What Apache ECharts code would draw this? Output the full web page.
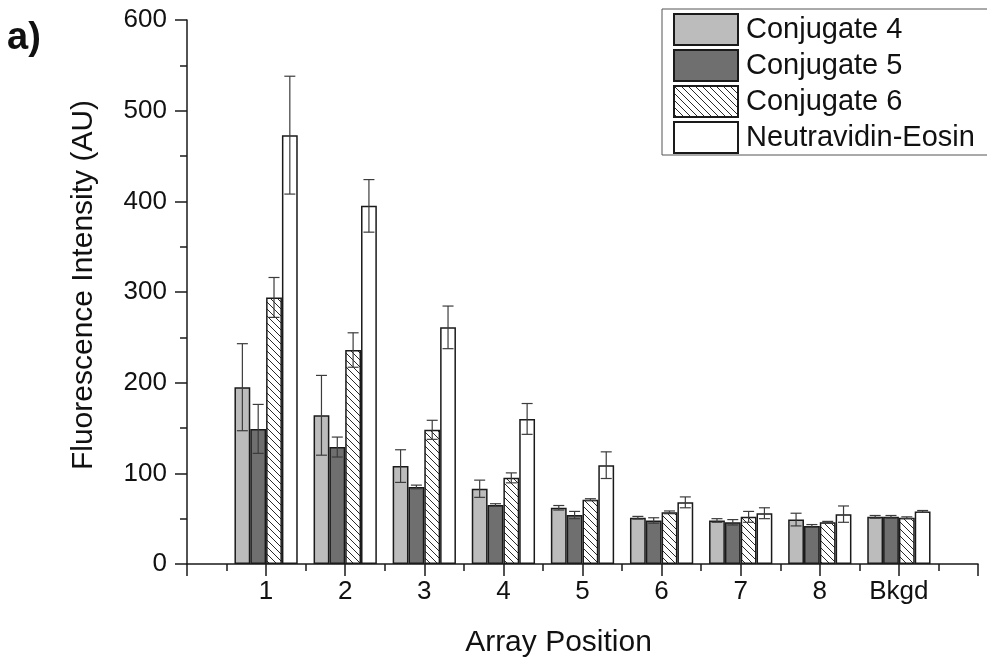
<!DOCTYPE html>
<html>
<head>
<meta charset="utf-8">
<script src="https://cdn.jsdelivr.net/npm/echarts@6/dist/echarts.min.js"></script>
<style>
    html, body { margin: 0; padding: 0; background: #fff; }
    #main { width: 987px; height: 668px; }
</style>
</head>
<body>
<div id="main"></div>
<script>
var positions = [1, 2, 3, 4, 5, 6, 7, 8, 9];
var posLabels = ['1', '2', '3', '4', '5', '6', '7', '8', 'Bkgd'];
var seriesNames = ['Conjugate 4', 'Conjugate 5', 'Conjugate 6', 'Neutravidin-Eosin'];

var conj4 = [195, 164, 108, 83, 62, 51, 48, 49, 52];
var conj4Err = [48, 44, 18, 9.5, 2.5, 1.5, 2, 7, 1.5];
var conj5 = [149, 129, 85, 65, 54, 48, 46, 42, 52];
var conj5Err = [27, 11, 2, 1.5, 4, 3, 3, 1.5, 1.5];
var conj6 = [294, 236, 148, 95, 71, 57, 52, 46, 51];
var conj6Err = [22, 19, 10.5, 5.5, 1, 1.5, 6, 1, 1];
var neutr = [473, 395, 261, 160, 109, 68, 56, 55, 58];
var neutrErr = [65, 29, 23.5, 17, 14.7, 6, 6, 9, 1];

var yTicks = [0, 100, 200, 300, 400, 500, 600];

var fig = {
    init() {
        fig.draw()
    },
    hatch() {
        // diagonal "\\\\" hatch tile
        var c = document.createElement('canvas');
        var s = 7;
        c.width = s;
        c.height = s;
        var ctx = c.getContext('2d');
        ctx.fillStyle = '#ffffff';
        ctx.fillRect(0, 0, s, s);
        ctx.strokeStyle = '#2a2a2a';
        ctx.lineWidth = 1;
        ctx.beginPath();
        ctx.moveTo(-1, -1);
        ctx.lineTo(s + 1, s + 1);
        ctx.moveTo(-1, s - 1);
        ctx.lineTo(1, s + 1);
        ctx.moveTo(s - 1, -1);
        ctx.lineTo(s + 1, 1);
        ctx.stroke();
        return c;
    },
    draw() {
        var myChart = echarts.init(document.getElementById('main'));
        var values = [conj4, conj5, conj6, neutr];
        var errs = [conj4Err, conj5Err, conj6Err, neutrErr];
        var fills = ['#bcbcbc', '#6f6f6f', { image: fig.hatch(), repeat: 'repeat' }, '#ffffff'];
        var barFrac = 0.2;

        var series = [];
        values.forEach((vals, k) => {
            series.push({
                name: seriesNames[k],
                type: 'bar',
                barWidth: (barFrac * 100) + '%',
                barGap: '0%',
                data: positions.map((p, i) => [p, vals[i]]),
                itemStyle: {
                    color: fills[k],
                    borderColor: '#1a1a1a',
                    borderWidth: 1.5
                },
                emphasis: { disabled: true },
                z: 2
            })
        });
        values.forEach((vals, k) => {
            var off = (k - 1.5) * barFrac;
            series.push({
                name: seriesNames[k] + ' err',
                type: 'custom',
                z: 5,
                silent: true,
                data: positions.map((p, i) => [p, vals[i], errs[k][i], off]),
                renderItem: function (params, api) {
                    var x = api.value(0) + api.value(3);
                    var hi = api.coord([x, api.value(1) + api.value(2)]);
                    var lo = api.coord([x, api.value(1) - api.value(2)]);
                    var cap = 5.5;
                    var st = { stroke: '#3c3c3c', lineWidth: 1.2 };
                    return {
                        type: 'group',
                        children: [
                            { type: 'line', shape: { x1: hi[0], y1: hi[1], x2: lo[0], y2: lo[1] }, style: st },
                            { type: 'line', shape: { x1: hi[0] - cap, y1: hi[1], x2: hi[0] + cap, y2: hi[1] }, style: st },
                            { type: 'line', shape: { x1: lo[0] - cap, y1: lo[1], x2: lo[0] + cap, y2: lo[1] }, style: st }
                        ]
                    };
                }
            })
        });

        var option = {
            animation: false,
            backgroundColor: '#ffffff',
            textStyle: { fontFamily: 'Liberation Sans, Arial, sans-serif', color: '#111' },
            graphic: [{
                type: 'text',
                left: 7,
                top: 20,
                style: { text: 'a)', font: 'bold 38px "Liberation Sans", Arial, sans-serif', fill: '#111' }
            }],
            legend: {
                data: seriesNames,
                orient: 'vertical',
                left: 662,
                top: 9,
                icon: 'rect',
                itemWidth: 64,
                itemHeight: 31,
                itemGap: 3,
                padding: [4, 60, 1, 11],
                borderColor: '#555',
                borderWidth: 1,
                selectedMode: false,
                textStyle: {
                    fontSize: 29,
                    lineHeight: 31,
                    color: '#111',
                    fontFamily: 'Liberation Sans, Arial, sans-serif',
                    padding: [0, 0, 0, 3]
                }
            },
            grid: {
                left: 187,
                right: 9,
                top: 20,
                bottom: 104
            },
            xAxis: {
                type: 'value',
                min: 0,
                max: 10,
                interval: 1,
                name: 'Array Position',
                nameLocation: 'middle',
                nameGap: 64,
                nameTextStyle: { fontSize: 30, color: '#111', padding: [0, 48, 0, 0] },
                axisLine: { lineStyle: { color: '#1a1a1a', width: 1.5 } },
                axisTick: { show: true, length: 12, lineStyle: { color: '#1a1a1a', width: 1.5 } },
                minorTick: { show: true, splitNumber: 2, length: 7, lineStyle: { color: '#1a1a1a', width: 1.5 } },
                splitLine: { show: false },
                minorSplitLine: { show: false },
                axisLabel: {
                    fontSize: 26,
                    color: '#111',
                    margin: 15,
                    formatter: function (v) {
                        var i = positions.indexOf(v);
                        return i < 0 ? '' : posLabels[i];
                    }
                }
            },
            yAxis: {
                type: 'value',
                min: yTicks[0],
                max: yTicks[yTicks.length - 1],
                interval: 100,
                name: 'Fluorescence Intensity (AU)',
                nameLocation: 'middle',
                nameGap: 88,
                nameTextStyle: { fontSize: 30, color: '#111', padding: [0, 0, 0, 14] },
                axisLine: { show: true, lineStyle: { color: '#1a1a1a', width: 1.5 } },
                axisTick: { show: true, length: 12, lineStyle: { color: '#1a1a1a', width: 1.5 } },
                minorTick: { show: true, splitNumber: 2, length: 7, lineStyle: { color: '#1a1a1a', width: 1.5 } },
                splitLine: { show: false },
                axisLabel: { fontSize: 26, color: '#111', margin: 20 }
            },
            series: series
        };
        myChart.setOption(option);
    }
}
fig.init()
</script>
</body>
</html>
